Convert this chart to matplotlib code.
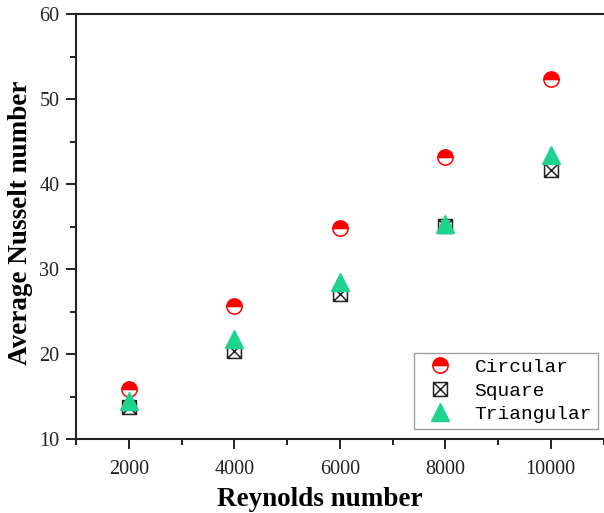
import matplotlib
matplotlib.use("Agg")
import matplotlib.pyplot as plt
from matplotlib.path import Path
from matplotlib.ticker import MultipleLocator

re_vals = [2000, 4000, 6000, 8000, 10000]
circular = [15.9, 25.6, 34.8, 43.2, 52.4]
square = [13.8, 20.4, 27.1, 35.1, 41.6]
triangular = [14.5, 21.8, 28.5, 35.3, 43.4]

# square with a cross inside
box_x = Path([(-1, -1), (1, -1), (1, 1), (-1, 1), (-1, -1),
              (-1, -1), (1, 1), (-1, 1), (1, -1)],
             [Path.MOVETO, Path.LINETO, Path.LINETO, Path.LINETO, Path.CLOSEPOLY,
              Path.MOVETO, Path.LINETO, Path.MOVETO, Path.LINETO])

plt.rcParams['font.family'] = ['Liberation Serif', 'DejaVu Serif']

fig = plt.figure(figsize=(6.04, 5.13), dpi=100)
ax = fig.add_axes([76 / 604, 74 / 513, 527.5 / 604, 425 / 513])

ax.plot(re_vals, circular, linestyle='none', marker='o', markersize=11,
        color='red', fillstyle='top', markerfacecoloralt='white',
        markeredgewidth=1.1, label='Circular')
ax.plot(re_vals, square, linestyle='none', marker=box_x, markersize=10,
        markerfacecolor='none', markeredgecolor='#222222',
        markeredgewidth=1.1, label='Square')
ax.plot(re_vals, triangular, linestyle='none', marker='^', markersize=12.5,
        color='#1dd38e', label='Triangular')

ax.set_xlim(1000, 11000)
ax.set_ylim(10, 60)
ax.xaxis.set_major_locator(MultipleLocator(2000))
ax.xaxis.set_minor_locator(MultipleLocator(1000))
ax.yaxis.set_major_locator(MultipleLocator(10))
ax.yaxis.set_minor_locator(MultipleLocator(5))
ax.tick_params(which='both', direction='out', top=False, right=False,
               labelsize=14.5, width=1.4, color='#222222', labelcolor='#222222')
ax.tick_params(which='major', length=7, pad=5)
ax.tick_params(axis='x', which='major', pad=8)
ax.tick_params(which='minor', length=4)
for side in ['left', 'bottom', 'top']:
    ax.spines[side].set_linewidth(1.5)
    ax.spines[side].set_color('#222222')
ax.spines['right'].set_linewidth(0.8)
ax.spines['right'].set_color('#bbbbbb')

ax.set_xlabel('Reynolds number', fontsize=19.5, fontweight='bold')
ax.set_ylabel('Average Nusselt number', fontsize=19.5, fontweight='bold')
ax.xaxis.set_label_coords(0.4626, -0.114)
ax.yaxis.set_label_coords(-0.0815, 0.508)

leg = ax.legend(loc='lower right', prop={'family': 'Liberation Mono', 'size': 14},
                frameon=True, fancybox=False, edgecolor='#888888',
                handlelength=2.0, handletextpad=0.8, borderpad=0.3,
                labelspacing=0.3, borderaxespad=0,
                bbox_to_anchor=(0.9896, 0.0235))
leg.get_frame().set_linewidth(1.0)

fig.savefig('out.png', dpi=100)
